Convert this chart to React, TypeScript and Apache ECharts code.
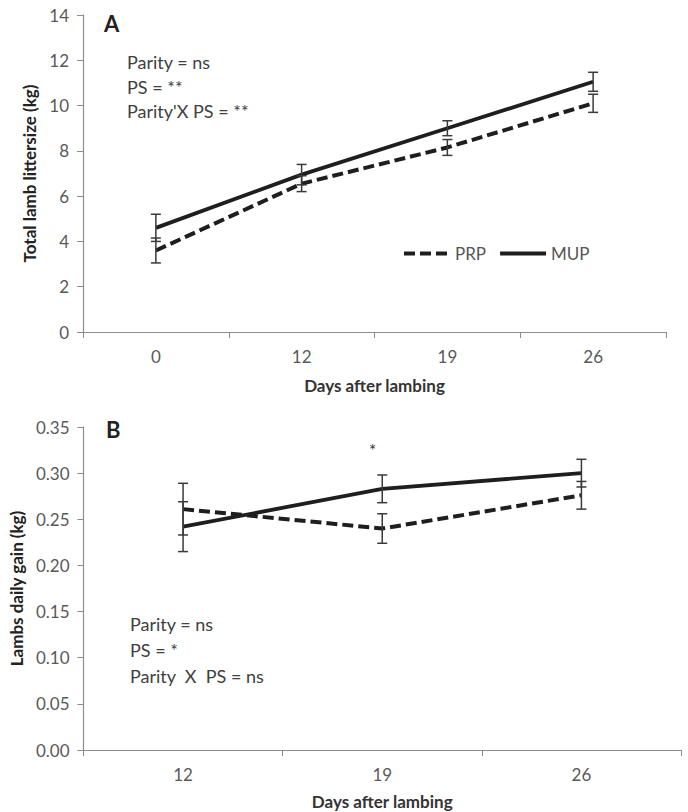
import React, { useEffect, useRef } from "react";
import * as echarts from "echarts";

const daysA = ["0", "12", "19", "26"];
const prpA = [3.6, 6.55, 8.15, 10.1];
const prpAErr = [0.55, 0.35, 0.35, 0.4];
const mupA = [4.6, 6.95, 9.0, 11.05];
const mupAErr = [0.6, 0.45, 0.33, 0.42];

const daysB = ["12", "19", "26"];
const prpB = [0.261, 0.24, 0.276];
const prpBErr = [0.028, 0.016, 0.015];
const mupB = [0.242, 0.283, 0.3];
const mupBErr = [0.027, 0.015, 0.015];

const textA = ["Parity = ns", "PS = **", "Parity'X PS = **"];
const textB = ["Parity = ns", "PS = *", "Parity  X  PS = ns"];

const FONT = "Lato";
const LINE = "#1e1e1e";
const AXIS = "#8c8c8c";
const LABEL = "#595959";
const TEXT = "#404040";
const DASH = [11, 5];

function errData(vals: number[], errs: number[]) {
  return vals.map((v, i) => [i, v - errs[i], v + errs[i]]);
}

function errSeries(xi: number, data: number[][]) {
  return {
    type: "custom",
    xAxisIndex: xi,
    yAxisIndex: xi,
    z: 5,
    silent: true,
    encode: { x: 0, y: [1, 2] },
    data,
    renderItem: (params: any, api: any) => {
      const x = api.value(0);
      const p1 = api.coord([x, api.value(1)]);
      const p2 = api.coord([x, api.value(2)]);
      const w = 5;
      const st = { stroke: "#3a3a3a", lineWidth: 1.5 };
      return {
        type: "group",
        children: [
          { type: "line", shape: { x1: p1[0], y1: p1[1], x2: p2[0], y2: p2[1] }, style: st },
          { type: "line", shape: { x1: p1[0] - w, y1: p1[1], x2: p1[0] + w, y2: p1[1] }, style: st },
          { type: "line", shape: { x1: p2[0] - w, y1: p2[1], x2: p2[0] + w, y2: p2[1] }, style: st },
        ],
      };
    },
  };
}

export default function App() {
  const ref = useRef<HTMLDivElement>(null);
  useEffect(() => {
    if (!ref.current) return;
    const chart = echarts.init(ref.current, null, { renderer: "svg" });
    const xAxisCommon = {
      type: "category",
      boundaryGap: true,
      axisLine: { lineStyle: { color: AXIS, width: 1.2 } },
      axisTick: { show: true, length: 6, lineStyle: { color: AXIS } },
      axisLabel: { color: LABEL, fontSize: 17, fontFamily: FONT, margin: 16 },
      nameLocation: "middle",
      nameTextStyle: { color: "#333", fontSize: 17, fontWeight: "bold", fontFamily: FONT },
    };
    const yAxisCommon = {
      type: "value",
      axisLine: { show: true, lineStyle: { color: AXIS, width: 1.2 } },
      axisTick: { show: true, length: 6, lineStyle: { color: AXIS } },
      splitLine: { show: false },
      axisLabel: { color: LABEL, fontSize: 17, fontFamily: FONT, margin: 14 },
      nameLocation: "middle",
      nameTextStyle: { color: "#222", fontSize: 17, fontWeight: "bold", fontFamily: FONT },
    };
    const textStyle = { fill: TEXT, fontSize: 18, fontFamily: FONT };
    chart.setOption({
      animation: false,
      backgroundColor: "#ffffff",
      grid: [
        { left: 83, top: 15, width: 583, height: 317 },
        { left: 83, top: 427, width: 598, height: 323 },
      ],
      legend: {
        left: 397,
        top: 240,
        itemWidth: 46,
        itemHeight: 18,
        itemGap: 12,
        data: ["PRP", "MUP"],
        itemStyle: { opacity: 0 },
        lineStyle: { width: 4 },
        textStyle: { color: "#555", fontSize: 17, fontFamily: FONT },
      },
      xAxis: [
        { ...xAxisCommon, gridIndex: 0, data: daysA, name: "Days after lambing", nameGap: 45 },
        { ...xAxisCommon, gridIndex: 1, data: daysB, name: "Days after lambing", nameGap: 43 },
      ],
      yAxis: [
        {
          ...yAxisCommon,
          gridIndex: 0,
          min: 0,
          max: 14,
          interval: 2,
          name: "Total lamb littersize (kg)",
          nameGap: 43,
        },
        {
          ...yAxisCommon,
          gridIndex: 1,
          min: 0,
          max: 0.35,
          interval: 0.05,
          name: "Lambs daily gain (kg)",
          nameGap: 43,
          axisLabel: { ...yAxisCommon.axisLabel, formatter: (v: number) => v.toFixed(2) },
        },
      ],
      series: [
        {
          name: "PRP",
          type: "line",
          xAxisIndex: 0,
          yAxisIndex: 0,
          data: prpA,
          symbol: "none",
          lineStyle: { color: LINE, width: 4, type: DASH },
          itemStyle: { color: LINE },
        },
        {
          name: "MUP",
          type: "line",
          xAxisIndex: 0,
          yAxisIndex: 0,
          data: mupA,
          symbol: "none",
          lineStyle: { color: LINE, width: 3.8 },
          itemStyle: { color: LINE },
        },
        {
          name: "PRP",
          type: "line",
          xAxisIndex: 1,
          yAxisIndex: 1,
          data: prpB,
          symbol: "none",
          lineStyle: { color: LINE, width: 4, type: DASH },
          itemStyle: { color: LINE },
        },
        {
          name: "MUP",
          type: "line",
          xAxisIndex: 1,
          yAxisIndex: 1,
          data: mupB,
          symbol: "none",
          lineStyle: { color: LINE, width: 3.8 },
          itemStyle: { color: LINE },
        },
        errSeries(0, errData(prpA, prpAErr)),
        errSeries(0, errData(mupA, mupAErr)),
        errSeries(1, errData(prpB, prpBErr)),
        errSeries(1, errData(mupB, mupBErr)),
      ],
      graphic: [
        { type: "text", left: 104, top: 12, style: { text: "A", fill: "#222", fontSize: 22, fontWeight: "bold", fontFamily: FONT } },
        { type: "text", left: 106, top: 418, style: { text: "B", fill: "#222", fontSize: 22, fontWeight: "bold", fontFamily: FONT } },
        ...textA.map((t, i) => ({
          type: "text",
          left: 127,
          top: 53 + i * 24.5,
          style: { ...textStyle, text: t },
        })),
        ...textB.map((t, i) => ({
          type: "text",
          left: 130,
          top: 615 + i * 26,
          style: { ...textStyle, text: t },
        })),
        { type: "text", left: 369, top: 442, style: { text: "*", fill: "#333", fontSize: 17, fontFamily: FONT } },
      ],
    });
    return () => chart.dispose();
  }, []);
  return (
    <div
      ref={ref}
      style={{ position: "fixed", left: 0, top: 0, width: 688, height: 812, background: "#fff" }}
    />
  );
}
